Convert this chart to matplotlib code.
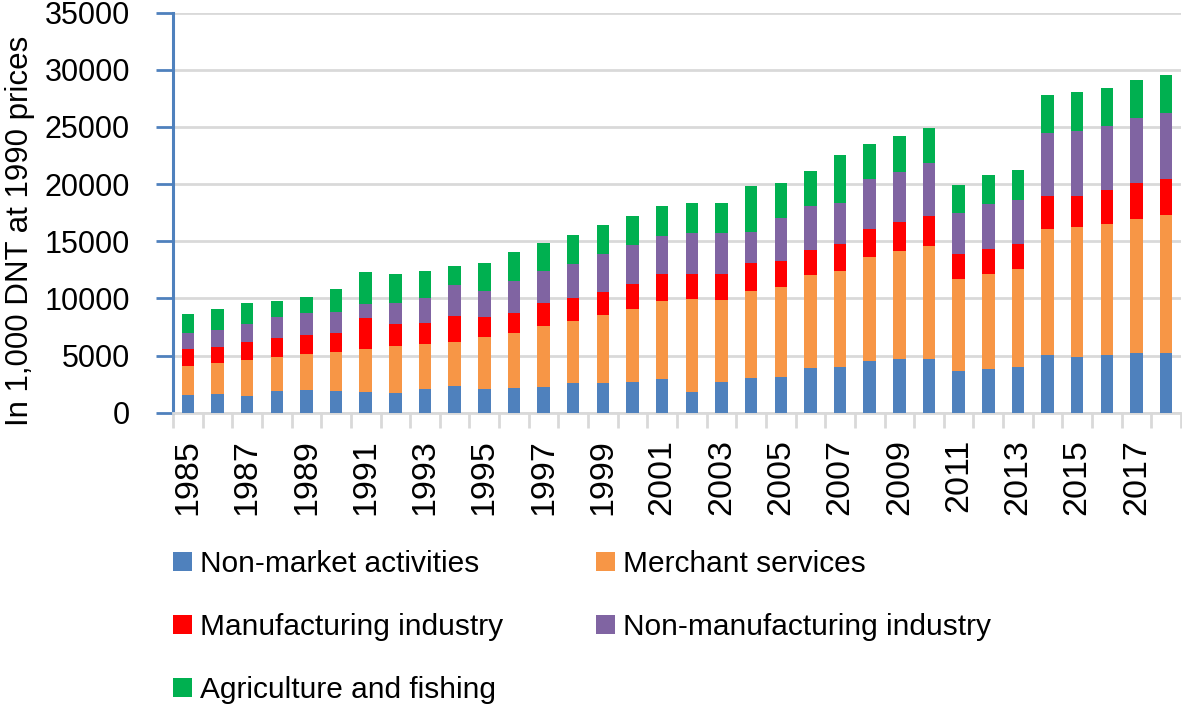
import matplotlib

matplotlib.use("Agg")
import matplotlib.pyplot as plt
import numpy as np

years = list(range(1985, 2019))
series_names = [
    "Non-market activities",
    "Merchant services",
    "Manufacturing industry",
    "Non-manufacturing industry",
    "Agriculture and fishing",
]
colors = ["#4F81BD", "#F79646", "#FF0000", "#8064A2", "#00B050"]

non_market = [1520, 1610, 1490, 1900, 1960, 1900, 1840, 1720, 2050, 2360, 2100, 2190,
              2280, 2630, 2570, 2660, 2950, 1840, 2710, 3010, 3100, 3940, 4000, 4520,
              4700, 4700, 3680, 3850, 4030, 5050, 4900, 5050, 5200, 5250]
merchant = [2570, 2765, 3120, 3000, 3180, 3410, 3730, 4140, 3960, 3830, 4550, 4810,
            5310, 5390, 6010, 6440, 6820, 8080, 7150, 7640, 7930, 8140, 8430, 9100,
            9480, 9890, 8020, 8290, 8520, 11020, 11380, 11460, 11750, 12050]
manufacturing = [1460, 1400, 1600, 1660, 1630, 1640, 2740, 1880, 1810, 2300, 1700, 1750,
                 2040, 1990, 2010, 2160, 2340, 2220, 2250, 2480, 2270, 2180, 2330, 2480,
                 2510, 2650, 2190, 2180, 2210, 2920, 2710, 2980, 3150, 3120]
non_manufacturing = [1450, 1435, 1550, 1790, 1930, 1890, 1180, 1830, 2240, 2680, 2330, 2800,
                     2770, 3000, 3320, 3440, 3350, 3610, 3640, 2680, 3760, 3830, 3620, 4380,
                     4400, 4640, 3610, 3920, 3850, 5510, 5660, 5620, 5710, 5780]
agriculture = [1640, 1840, 1865, 1425, 1450, 1980, 2800, 2570, 2340, 1670, 2450, 2490,
               2420, 2510, 2510, 2510, 2610, 2570, 2570, 4000, 3010, 3060, 4140, 3010,
               3100, 3010, 2420, 2530, 2630, 3300, 3440, 3300, 3330, 3350]

plt.rcParams["font.family"] = ["Liberation Sans", "DejaVu Sans"]

fig = plt.figure(figsize=(11.82, 7.07), dpi=100)
W, H = 1182, 707
ax = fig.add_axes([173 / W, 1 - 412.7 / H, (1181 - 173) / W, 400 / H])

x = np.arange(len(years))
bottom = np.zeros(len(years))
handles = []
for name, values, color in zip(
    series_names,
    [non_market, merchant, manufacturing, non_manufacturing, agriculture],
    colors,
):
    bars = ax.bar(x, values, width=0.42, bottom=bottom, color=color, label=name, zorder=3)
    handles.append(bars)
    bottom += np.array(values)

ax.set_xlim(-0.5, len(years) - 0.5)
ax.set_ylim(0, 35000)
ax.set_yticks(range(0, 35001, 5000))
ax.tick_params(axis="y", labelsize=22, color="#4F81BD", length=12, width=2, pad=19)
ax.grid(axis="y", color="#D9D9D9", linewidth=2, zorder=0)

ax.set_xticks(x[::2])
ax.set_xticklabels([str(y) for y in years[::2]], rotation=90)
ax.set_xticks(np.arange(-0.5, len(years), 1), minor=True)
ax.tick_params(axis="x", which="major", length=0, labelsize=24.5, pad=19)
ax.tick_params(axis="x", which="minor", length=11, width=2, color="#D9D9D9")

for side in ("top", "right"):
    ax.spines[side].set_visible(False)
ax.spines["left"].set_color("#4F81BD")
ax.spines["left"].set_linewidth(2.2)
ax.spines["bottom"].set_color("#D9D9D9")
ax.spines["bottom"].set_linewidth(2)

# ylabel is anchored by its right edge (text bottom) after rotation
ax.set_ylabel("In 1,000 DNT at 1990 prices", fontsize=22.5)
ax.yaxis.set_label_coords((35 - 173) / 1008, 0.454)

order = [0, 2, 4, 1, 3]
fig.legend(
    [handles[i] for i in order],
    [series_names[i] for i in order],
    ncol=2,
    loc="upper left",
    bbox_to_anchor=(173 / W, 1 - 550 / H),
    bbox_transform=fig.transFigure,
    frameon=False,
    fontsize=21.5,
    handlelength=0.64,
    handleheight=0.64,
    handletextpad=0.27,
    columnspacing=3.1,
    labelspacing=1.17,
    borderpad=0,
    borderaxespad=0,
)

fig.savefig("out.png", dpi=100)
